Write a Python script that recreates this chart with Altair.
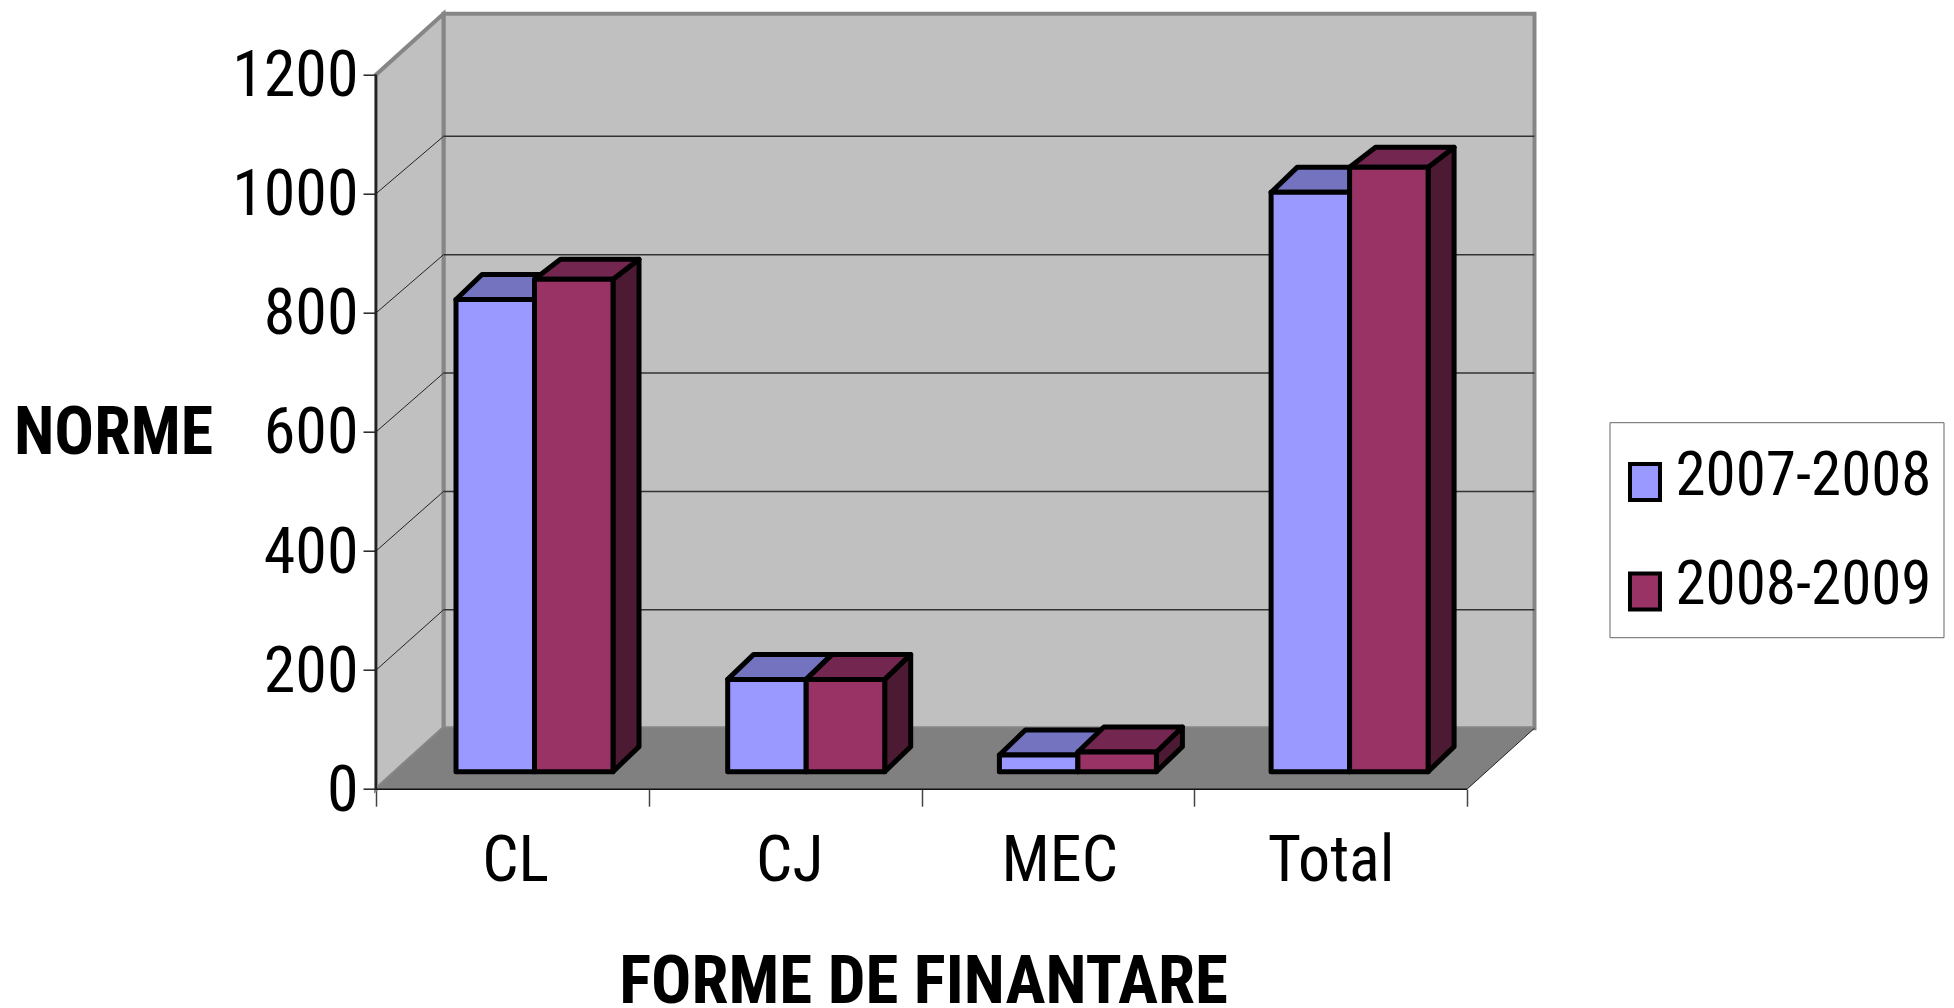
import json
import altair as alt
import pandas as pd

categories = ["CL", "CJ", "MEC", "Total"]
series_names = ["2007-2008", "2008-2009"]
values_a = [793, 155, 28, 973]
values_b = [827, 155, 33, 1015]
y_ticks = [0, 200, 400, 600, 800, 1000, 1200]

FONT = "Roboto Condensed, Liberation Sans"
PX_X = 272.75       # pixels per category
PX_Y = 0.5954       # pixels per value unit
DX = 67.5 / PX_X    # wall depth in category units
DY = 61.0 / PX_Y    # wall depth in value units
BAR_START = 80 / PX_X
BAR_STEP = 271.7 / PX_X
BAR_W = 78.5 / PX_X
BASE = 17.5 / PX_Y
SIDE_DX = 26 / PX_X
SIDE_DY = 25 / PX_Y
SHORT_DY = 20 / PX_Y
GRID_K = 0.994
XMAX = 4 + DX
YMAX = 1200 + DY
WIDTH = XMAX * PX_X
HEIGHT = YMAX * PX_Y

xs = alt.Scale(domain=[0, XMAX], nice=False, zero=False)
ys = alt.Scale(domain=[0, YMAX], nice=False, zero=False)
colors = {"a": ("#9999FF", "#7373BF", "#4D4D80"), "b": ("#993366", "#732650", "#4D1A33")}


def X(field="x", **kw):
    kw.setdefault("axis", None)
    return alt.X(f"{field}:Q", scale=xs, **kw)


def Y(field="y", **kw):
    kw.setdefault("axis", None)
    return alt.Y(f"{field}:Q", scale=ys, **kw)


def wedge(rows):
    return alt.Chart(pd.DataFrame(rows))


# walls and floor
back = alt.Chart(pd.DataFrame([{"x": DX, "x2": XMAX, "y": DY, "y2": YMAX}])).mark_rect(
    fill="#C0C0C0", stroke="#868686", strokeWidth=4).encode(
    x=X(), x2="x2:Q", y=Y(), y2="y2:Q")
left = wedge([{"x": 0, "y": 0, "y2": 1200}, {"x": DX, "y": DY, "y2": YMAX}]).mark_area(
    orient="vertical", fill="#C0C0C0", stroke="#868686", strokeWidth=4).encode(
    x=X(), y=Y(), y2="y2:Q")
floor = wedge([{"y": 0, "x": 0, "x2": 4}, {"y": DY, "x": DX, "x2": XMAX}]).mark_area(
    orient="horizontal", fill="#808080").encode(y=Y(), x=X(), x2="x2:Q")

grid_rows = [{"x": DX, "x2": XMAX, "y": v * GRID_K + DY} for v in y_ticks[1:-1]]
grid_back = alt.Chart(pd.DataFrame(grid_rows)).mark_rule(color="#333333", strokeWidth=1.5).encode(
    x=X(), x2="x2:Q", y=Y())
diag_rows = []
for v in y_ticks[1:-1]:
    diag_rows += [{"k": v, "x": 0, "y": v}, {"k": v, "x": DX, "y": v * GRID_K + DY}]
grid_left = alt.Chart(pd.DataFrame(diag_rows)).mark_line(color="#222222", strokeWidth=1).encode(
    x=X(), y=Y(), detail="k:N")
floor_edge = alt.Chart(pd.DataFrame([{"x": 4, "y": 0}, {"x": XMAX, "y": DY}])).mark_line(
    color="#222222", strokeWidth=1).encode(x=X(), y=Y())

# axes
y_axis = alt.Chart(pd.DataFrame([{"x": 0, "y": 0, "y2": 1200}])).mark_rule(
    color="#222222", strokeWidth=2).encode(
    x=X(),
    y=Y(axis=alt.Axis(orient="left", zindex=1, values=y_ticks, format="d", title="NORME", titleFont=FONT, titleFontSize=66,
                      titleFontWeight="bold", titleColor="black", titleAngle=0,
                      titleAlign="center", titleBaseline="middle", titleX=-263, titleY=420,
                      labelFont=FONT, labelFontSize=64, labelColor="black", labelPadding=5, labelOffset=2,
                      tickSize=13, tickColor="#222222", tickWidth=1.5, domain=False, grid=False,
                      labelOverlap=False)),
    y2="y2:Q")
x_ticks_layer = alt.Chart(pd.DataFrame([{"x": 0, "x2": 4, "y": 0}])).mark_rule(
    color="#111111", strokeWidth=1.5).encode(
    x=X(axis=alt.Axis(orient="bottom", values=[0, 1, 2, 3, 4], labels=False, title=None, tickSize=17,
                      tickColor="#444444", tickWidth=1.5, domain=False, grid=False)),
    x2="x2:Q", y=Y())
label_expr = json.dumps(categories) + "[floor(datum.value)]"
x_labels_layer = alt.Chart(pd.DataFrame([{"x": 0, "y": 0}])).mark_point(opacity=0).encode(
    x=X(axis=alt.Axis(orient="bottom", zindex=1, values=[0.51, 1.515, 2.505, 3.5], labelExpr=label_expr, ticks=False, domain=False,
                      grid=False, labelFont=FONT, labelFontSize=64, labelColor="black",
                      labelPadding=40.5, labelOverlap=False,
                      title="FORME DE FINANTARE", titleFont=FONT, titleFontSize=67,
                      titleFontWeight="bold", titleColor="black", titleAlign="center",
                      titleBaseline="middle", titleX=547, titleY=193)),
    y=Y())

# legend frame, drawn in pixels of the plot area
legend_box = alt.Chart(pd.DataFrame([{"k": 0}])).mark_rect(
    fill="white", stroke="#666666", strokeWidth=1).encode(
    x=alt.value(1234), x2=alt.value(1568), y=alt.value(409), y2=alt.value(624))

# bars
front_rows, layers_3d = [], []
for s, (vals, name) in enumerate(zip([values_a, values_b], series_names)):
    key = "ab"[s]
    side_rows, top_rows = [], []
    for i, v in enumerate(vals):
        l = BAR_START + i * BAR_STEP + s * BAR_W
        r = l + BAR_W
        front_rows.append({"x": l, "x2": r, "y": BASE, "y2": BASE + v, "series": name})
        depth = SHORT_DY if (s == 1 and v > 500) else SIDE_DY
        side_rows += [{"c": i, "x": r, "y": BASE, "y2": BASE + v},
                      {"c": i, "x": r + SIDE_DX, "y": BASE + SIDE_DY, "y2": BASE + v + depth}]
        top_rows += [{"c": i, "y": BASE + v, "x": l, "x2": r},
                     {"c": i, "y": BASE + v + depth, "x": l + SIDE_DX, "x2": r + SIDE_DX}]
    layers_3d.append(alt.Chart(pd.DataFrame(side_rows)).mark_area(
        orient="vertical", fill=colors[key][2], stroke="black", strokeWidth=5, strokeJoin="round").encode(
        x=X(), y=Y(), y2="y2:Q", detail="c:N"))
    layers_3d.append(alt.Chart(pd.DataFrame(top_rows)).mark_area(
        orient="horizontal", fill=colors[key][1], stroke="black", strokeWidth=5, strokeJoin="round").encode(
        y=Y(), x=X(), x2="x2:Q", detail="c:N"))

fronts = alt.Chart(pd.DataFrame(front_rows)).mark_rect(stroke="black", strokeWidth=5, strokeJoin="round").encode(
    x=X(), x2="x2:Q", y=Y(), y2="y2:Q",
    fill=alt.Fill("series:N",
                  scale=alt.Scale(domain=series_names, range=[colors["a"][0], colors["b"][0]]),
                  legend=alt.Legend(title=None, orient="none", legendX=1229, legendY=409, padding=23.5,
                                    symbolType="M-1.5,-1.26H1.5V2.34H-1.5Z", symbolSize=400,
                                    symbolStrokeColor="black", symbolStrokeWidth=4, symbolOffset=-14,
                                    labelFont=FONT, labelFontSize=61, labelColor="black",
                                    labelOffset=0, rowPadding=46.5, labelLimit=400)))

chart = alt.layer(back, left, floor, grid_back, grid_left, floor_edge, y_axis,
                  x_ticks_layer, x_labels_layer, legend_box, *layers_3d, fronts).resolve_axis(
    x="independent", y="independent").properties(
    width=WIDTH, height=HEIGHT,
    autosize=alt.AutoSizeParams(type="none"),
    padding={"left": 368, "top": 5.7, "right": 1938 - 368 - WIDTH, "bottom": 218},
    background="white",
).configure_view(stroke=None)

chart.save("out.html", embed_options={"renderer": "svg", "actions": False})
